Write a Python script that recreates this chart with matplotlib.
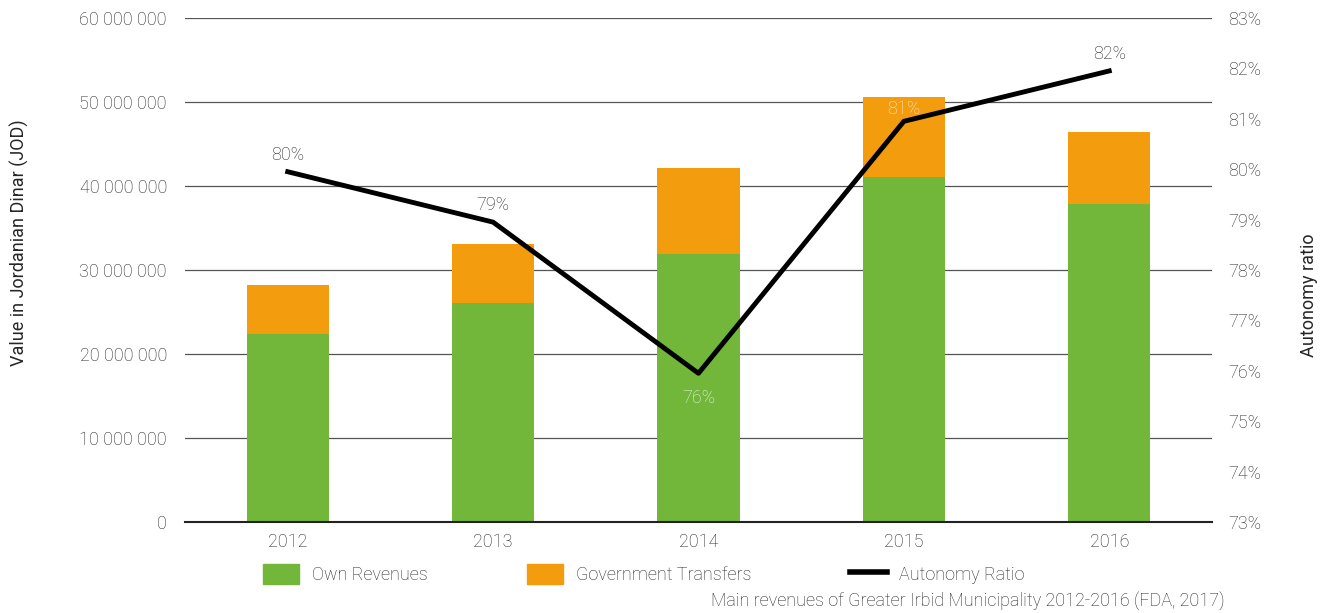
import matplotlib.pyplot as plt
from matplotlib.patches import Patch
from matplotlib.lines import Line2D
import numpy as np

plt.rcParams['font.family'] = ['Roboto', 'DejaVu Sans']
plt.rcParams['font.weight'] = 'light'

years = ['2012', '2013', '2014', '2015', '2016']
own_revenues = [22.4e6, 26.1e6, 31.9e6, 41.1e6, 37.9e6]
gov_transfers = [5.8e6, 7.0e6, 10.2e6, 9.5e6, 8.5e6]
autonomy = [79.95, 78.95, 75.95, 80.95, 81.95]
autonomy_labels = ['80%', '79%', '76%', '81%', '82%']

green = '#72b73a'
orange = '#f39c0e'
txt = '#262626'
fs = 13

fig = plt.figure(figsize=(13.27, 6.13), dpi=100)
ax = fig.add_axes([0.1394, 0.1485, 0.7739, 0.8221])
x = np.arange(len(years))

ax.bar(x, own_revenues, width=0.4, color=green, zorder=2)
ax.bar(x, gov_transfers, width=0.4, bottom=own_revenues, color=orange, zorder=2)

ax.set_xlim(-0.5, 4.5)
ax.set_ylim(0, 60e6)
ticks = np.arange(0, 60e6 + 1, 10e6)
ax.set_yticks(ticks)
ax.set_yticklabels(['{:,}'.format(int(v)).replace(',', ' ') for v in ticks])
ax.yaxis.grid(True, color='#555555', linewidth=0.9, zorder=0)
ax.set_axisbelow(True)
for s in ['top', 'right', 'left']:
    ax.spines[s].set_visible(False)
ax.spines['bottom'].set_color('#222222')
ax.spines['bottom'].set_linewidth(1.5)
ax.set_xticks(x)
ax.set_xticklabels(years)
ax.tick_params(axis='both', length=0, labelsize=fs, colors=txt, pad=13)
ax.tick_params(axis='x', pad=8)
ax.set_ylabel('Value in Jordanian Dinar (JOD)', fontsize=fs, color=txt)
ax.yaxis.set_label_coords(-0.152, 0.555)

ax2 = ax.twinx()
ax2.plot(x, autonomy, color='black', linewidth=3.5, zorder=5)
ax2.set_ylim(73, 83)
ax2.set_yticks(np.arange(73, 84, 1))
ax2.set_yticklabels(['{}%'.format(v) for v in range(73, 84)])
for s in ax2.spines.values():
    s.set_visible(False)
ax2.tick_params(axis='y', length=0, labelsize=fs, colors=txt, pad=12)
ax2.set_ylabel('Autonomy ratio', fontsize=fs, color=txt)
ax2.yaxis.set_label_coords(1.086, 0.45)

label_offsets = [12, 12, -18, 9, 12]
label_colors = [txt, txt, '#eef5e6', '#fdebd0', txt]
for xi, yi, lab, off, c in zip(x, autonomy, autonomy_labels, label_offsets, label_colors):
    ax2.annotate(lab, (xi, yi), xytext=(0, off), textcoords='offset points',
                 ha='center', va='center', fontsize=fs, color=c)

handles = [Patch(color=green, label='Own Revenues'),
           Patch(color=orange, label='Government Transfers'),
           Line2D([0], [0], color='black', linewidth=4, label='Autonomy Ratio')]
fig.legend(handles=handles, loc='center left', bbox_to_anchor=(0.186, 0.063), ncol=3,
           frameon=False, fontsize=fs, labelcolor=txt, handlelength=2.0,
           handleheight=1.3, columnspacing=5.5, handletextpad=0.7)

fig.text(0.923, 0.02, 'Main revenues of Greater Irbid Municipality 2012-2016 (FDA, 2017)',
         ha='right', va='center', fontsize=fs, color=txt)

fig.savefig('out.png', dpi=100)
